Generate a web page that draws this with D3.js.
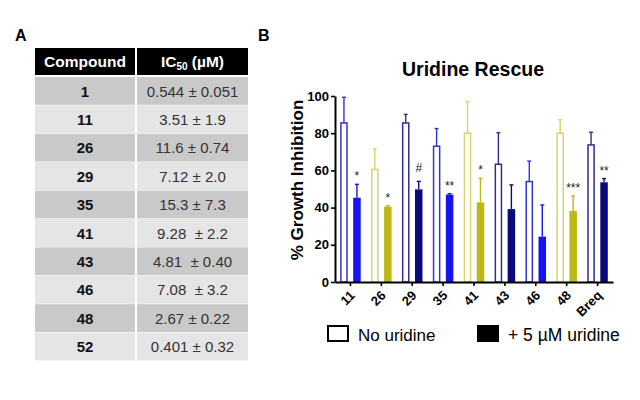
<!DOCTYPE html>
<html>
<head>
<meta charset="utf-8">
<script src="https://cdn.jsdelivr.net/npm/d3@7"></script>
<style>
  body { margin: 0; background: #fff; }
  text { font-family: "Liberation Sans", Arial, sans-serif; }
</style>
</head>
<body>
<svg id="fig" width="640" height="400"></svg>
<script>
// panel A table
const tableCompounds = ["1", "11", "26", "29", "35", "41", "43", "46", "48", "52"];
const tableIC50 = ["0.544 ± 0.051", "3.51 ± 1.9", "11.6 ± 0.74", "7.12 ± 2.0", "15.3 ± 7.3",
                   "9.28  ± 2.2", "4.81  ± 0.40", "7.08  ± 3.2", "2.67 ± 0.22", "0.401 ± 0.32"];

// panel B bars
const compounds = ["11", "26", "29", "35", "41", "43", "46", "48", "Breq"];
const noUridine = [85.5, 60.5, 85.5, 73, 80, 63.3, 54, 80, 73.7];
const noUridineErr = [13.8, 11, 4.6, 9.5, 17, 17, 11, 7.2, 6.8];
const withUridine = [45.3, 40.5, 49.8, 47, 42.8, 39.2, 24.4, 38.2, 53.6];
const withUridineErr = [7.2, 0.5, 4.3, 0.5, 12.9, 13, 17, 8, 2];
const significance = ["*", "*", "#", "**", "*", "", "", "***", "**"];
const colorGroup = ["blue", "yellow", "navy", "blue", "yellow", "navy", "blue", "yellow", "navy"];
const yTicks = [0, 20, 40, 60, 80, 100];

const fillColors = { blue: "#1414f0", yellow: "#bdb812", navy: "#0a0a7e" };
const lineColors = { blue: "#3434d4", yellow: "#d6d470", navy: "#2e2e96" };

const svg = d3.select("#fig");

// ---------- Panel A ----------
svg.append("text").attr("x", 15).attr("y", 41)
  .style("font-size", "16px").style("font-weight", "bold").text("A");

const colX = [35, 137];
const colW = [100, 111];
const headY = 48, headH = 27, rowTop = 77, rowH = 28.4;

colX.forEach((x, i) => {
  svg.append("rect").attr("x", x).attr("y", headY)
    .attr("width", colW[i]).attr("height", headH).attr("fill", "#000");
});
const head = svg.append("g").style("font-size", "15.5px").style("font-weight", "bold").attr("fill", "#fff");
head.append("text").attr("x", colX[0] + colW[0] / 2).attr("y", 67).attr("text-anchor", "middle").text("Compound");
const ic = head.append("text").attr("x", colX[1] + colW[1] / 2).attr("y", 67).attr("text-anchor", "middle");
ic.append("tspan").text("IC");
ic.append("tspan").attr("dy", 3).style("font-size", "10px").text("50");
ic.append("tspan").attr("dy", -3).text(" (µM)");

const rows = svg.append("g").selectAll("g").data(tableCompounds).join("g")
  .attr("transform", (d, i) => `translate(0,${rowTop + i * rowH})`);
colX.forEach((x, c) => {
  rows.append("rect").attr("x", x).attr("y", 0)
    .attr("width", colW[c]).attr("height", rowH - 0.6)
    .attr("fill", (d, i) => i % 2 === 0 ? "#c9c9c9" : "#e5e5e5");
});
rows.append("text").attr("x", colX[0] + colW[0] / 2).attr("y", rowH / 2 + 5.5)
  .attr("text-anchor", "middle").style("font-size", "15px").style("font-weight", "bold")
  .attr("fill", "#111").text(d => d);
rows.append("text").attr("x", colX[1] + colW[1] / 2).attr("y", rowH / 2 + 5.5)
  .attr("text-anchor", "middle").style("font-size", "15px").style("white-space", "pre")
  .attr("fill", "#333").text((d, i) => tableIC50[i]);

// ---------- Panel B ----------
svg.append("text").attr("x", 258).attr("y", 41)
  .style("font-size", "16px").style("font-weight", "bold").text("B");
svg.append("text").attr("x", 473).attr("y", 76).attr("text-anchor", "middle")
  .style("font-size", "19.5px").style("font-weight", "bold").text("Uridine Rescue");

const x = d3.scaleBand().domain(compounds).range([335, 613]).padding(0);
const y = d3.scaleLinear().domain([0, 100]).range([282, 96]);
const barW = 7.5, offset = 6.5, capW = 4;

const groups = svg.append("g").selectAll("g").data(compounds).join("g");

// error bars (upper only)
function errBar(sel, vals, errs, dx, colorMap) {
  sel.append("line")
    .attr("x1", (d) => x(d) + x.bandwidth() / 2 + dx)
    .attr("x2", (d) => x(d) + x.bandwidth() / 2 + dx)
    .attr("y1", (d, i) => y(vals[i]))
    .attr("y2", (d, i) => y(vals[i] + errs[i]))
    .attr("stroke", (d, i) => colorMap[colorGroup[i]]).attr("stroke-width", 1.4);
  sel.append("line")
    .attr("x1", (d) => x(d) + x.bandwidth() / 2 + dx - capW / 2)
    .attr("x2", (d) => x(d) + x.bandwidth() / 2 + dx + capW / 2)
    .attr("y1", (d, i) => y(vals[i] + errs[i]))
    .attr("y2", (d, i) => y(vals[i] + errs[i]))
    .attr("stroke", (d, i) => colorMap[colorGroup[i]]).attr("stroke-width", 1.4);
}
errBar(groups, noUridine, noUridineErr, -offset, lineColors);
errBar(groups, withUridine, withUridineErr, offset, fillColors);

groups.append("rect")
  .attr("x", d => x(d) + x.bandwidth() / 2 - offset - barW / 2 + 0.7)
  .attr("y", (d, i) => y(noUridine[i]))
  .attr("width", barW - 1.4)
  .attr("height", (d, i) => y(0) - y(noUridine[i]))
  .attr("fill", "#fff")
  .attr("stroke", (d, i) => lineColors[colorGroup[i]]).attr("stroke-width", 1.5);

groups.append("rect")
  .attr("x", d => x(d) + x.bandwidth() / 2 + offset - barW / 2)
  .attr("y", (d, i) => y(withUridine[i]))
  .attr("width", barW)
  .attr("height", (d, i) => y(0) - y(withUridine[i]))
  .attr("fill", (d, i) => fillColors[colorGroup[i]]);

// significance marks
groups.append("text")
  .attr("x", d => x(d) + x.bandwidth() / 2 + offset)
  .attr("y", (d, i) => y(withUridine[i] + withUridineErr[i]) - (significance[i] === "#" ? 9 : 4))
  .attr("text-anchor", "middle")
  .style("font-size", (d, i) => significance[i] === "#" ? "12px" : "12px")
  .attr("fill", "#222")
  .text((d, i) => significance[i]);

// axes
const yAxis = svg.append("g").attr("transform", "translate(335,0)")
  .call(d3.axisLeft(y).tickValues(yTicks).tickSize(4).tickSizeOuter(0));
const xAxis = svg.append("g").attr("transform", "translate(0,282)")
  .call(d3.axisBottom(x).tickSize(4).tickSizeOuter(0));
[yAxis, xAxis].forEach(a => {
  a.select(".domain").attr("stroke", "#000").attr("stroke-width", 2);
  a.selectAll(".tick line").attr("stroke", "#000").attr("stroke-width", 1.6);
  a.selectAll("text").attr("fill", "#000").style("font-size", "13px")
    .style("font-weight", "bold").style("font-family", "'Liberation Sans', Arial, sans-serif");
});
yAxis.selectAll("text").attr("x", -6);
xAxis.selectAll("text")
  .attr("x", 0).attr("y", 0).attr("dy", "0.35em")
  .attr("text-anchor", "end")
  .attr("transform", "translate(2,11) rotate(-45)");

svg.append("text")
  .attr("transform", "translate(303,180) rotate(-90)")
  .attr("text-anchor", "middle")
  .style("font-size", "17px").style("font-weight", "bold")
  .text("% Growth Inhibition");

// legend
const legend = svg.append("g");
legend.append("rect").attr("x", 328).attr("y", 326).attr("width", 20).attr("height", 15)
  .attr("fill", "#fff").attr("stroke", "#000").attr("stroke-width", 2);
legend.append("text").attr("x", 358).attr("y", 341).style("font-size", "17px").text("No uridine");
legend.append("rect").attr("x", 477).attr("y", 325).attr("width", 22).attr("height", 17)
  .attr("fill", "#000");
legend.append("text").attr("x", 508).attr("y", 341).style("font-size", "17.5px").text("+ 5 µM uridine");
</script>
</body>
</html>
